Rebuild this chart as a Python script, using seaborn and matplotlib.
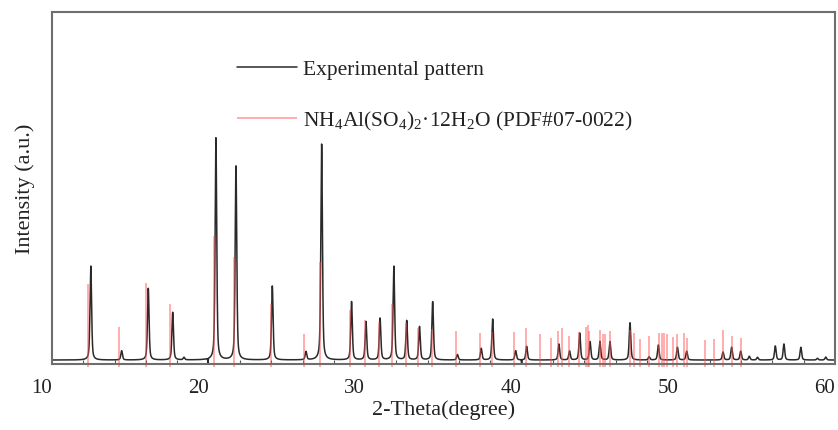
import numpy as np
import matplotlib
matplotlib.use("Agg")
import matplotlib.pyplot as plt
import seaborn as sns
from matplotlib.ticker import MultipleLocator

# experimental peaks (2-theta in degree, peak top in counts)
exp_pos = [12.48, 14.45, 16.15, 17.71, 18.43, 20.47, 21.75, 24.07, 26.22, 27.22,
           29.13, 30.05, 30.95, 31.83, 32.65, 33.47, 34.31, 35.89, 37.41, 38.14,
           39.61, 40.31, 42.37, 43.05, 43.70, 44.36, 44.99, 45.63, 46.91, 48.13,
           48.72, 49.94, 50.53, 52.85, 53.40, 53.98, 54.53, 55.05, 56.19, 56.74,
           57.82, 58.88, 59.41]
exp_int = [1638, 185, 1256, 844, 69, 3837, 3353, 1295, 168, 3731,
           1026, 683, 741, 1633, 700, 597, 1026, 120, 226, 729,
           185, 261, 300, 180, 489, 340, 343, 340, 665, 81,
           283, 244, 177, 163, 244, 177, 89, 72, 266, 300,
           244, 55, 77]
# two small downward glitches in the scan
dip_pos = [19.96, 39.99]
dip_int = [-90, -70]
baseline = 26

# PDF#07-0022 reference lines (2-theta, intensity in the same scale)
ref_pos = [12.32, 14.28, 15.98, 17.55, 20.36, 21.62, 23.97, 26.11, 27.11, 29.03,
           29.97, 30.90, 31.73, 32.61, 33.40, 34.25, 35.83, 37.35, 38.08, 39.52,
           40.27, 41.16, 41.86, 42.29, 42.55, 43.03, 43.68, 44.10, 44.21, 44.32,
           44.99, 45.17, 45.31, 45.63, 46.91, 47.16, 47.55, 48.13, 48.78, 48.95,
           49.11, 49.30, 49.67, 49.94, 50.37, 50.53, 51.70, 52.27, 52.87, 53.40,
           54.00]
ref_int = [1329, 592, 1346, 986, 2148, 1787, 986, 472, 1701, 883,
           712, 677, 986, 660, 583, 557, 532, 489, 506, 501,
           569, 467, 398, 528, 569, 432, 506, 592, 626, 528,
           540, 480, 472, 528, 540, 484, 395, 432, 497, 497,
           497, 480, 415, 467, 497, 403, 374, 391, 545, 432,
           398]

x_ticks = [10, 20, 30, 40, 50, 60]


def pv(x, c, fwhm, eta=0.5):
    # pseudo-Voigt peak shape, unit height
    g = np.exp(-4 * np.log(2) * (x - c) ** 2 / fwhm ** 2)
    l = 1 / (1 + 4 * (x - c) ** 2 / fwhm ** 2)
    return eta * l + (1 - eta) * g


two_theta = np.arange(10, 60.01, 0.005)
intensity = np.full_like(two_theta, baseline, dtype=float)
for p, h in zip(exp_pos, exp_int):
    intensity += (h - baseline) * pv(two_theta, p, 0.12)
for p, h in zip(dip_pos, dip_int):
    intensity += h * pv(two_theta, p, 0.03, eta=0.0)

sns.set_style("white")
plt.rcParams["font.family"] = ["Liberation Serif", "DejaVu Serif"]
plt.rcParams["mathtext.fontset"] = "custom"
plt.rcParams["mathtext.rm"] = "Liberation Serif"
plt.rcParams["mathtext.it"] = "Liberation Serif:italic"

fig = plt.figure(figsize=(8.38, 4.31), dpi=100)
ax = fig.add_axes([0.062, 0.153, 0.9344, 0.817])

sns.lineplot(x=two_theta, y=intensity, ax=ax, color="#2a2a2a", linewidth=1.1,
             label="Experimental pattern")
ax.vlines(ref_pos, -94, ref_int, color="#ff5252", alpha=0.55, linewidth=1.2,
          clip_on=False, label="NH$_4$Al(SO$_4$)$_2$·12H$_2$O (PDF#07-0022)")

ax.set_xlim(10, 60)
ax.set_ylim(-43, 6000)
ax.set_xticks(x_ticks)
ax.xaxis.set_minor_locator(MultipleLocator(2))
ax.set_yticks([0, 1000, 2000, 3000, 4000, 5000])
ax.set_yticklabels([])
for lab in ax.get_xticklabels():
    lab.set_ha("right")

ax.tick_params(axis="x", which="major", direction="in", length=3, width=1,
               color="#555555", labelsize=15, pad=10, labelcolor="#222222")
ax.tick_params(axis="x", which="minor", direction="in", length=3, width=0.8,
               color="#555555", bottom=True)
ax.tick_params(axis="y", direction="in", length=5, width=1.3, color="#444444")

for s in ax.spines.values():
    s.set_color("#6e6e6e")
    s.set_linewidth(1.5)

ax.set_xlabel("2-Theta(degree)", fontsize=16, labelpad=2, color="#222222")
ax.set_ylabel("Intensity (a.u.)", fontsize=16, labelpad=9, color="#222222")

leg = ax.legend(loc="upper left", bbox_to_anchor=(0.236, 0.866), frameon=False,
                fontsize=15.5, handlelength=2.8, handletextpad=0.3,
                labelspacing=1.4, borderpad=0, borderaxespad=0)
for t in leg.get_texts():
    t.set_color("#222222")

fig.savefig("out.png", dpi=100)
